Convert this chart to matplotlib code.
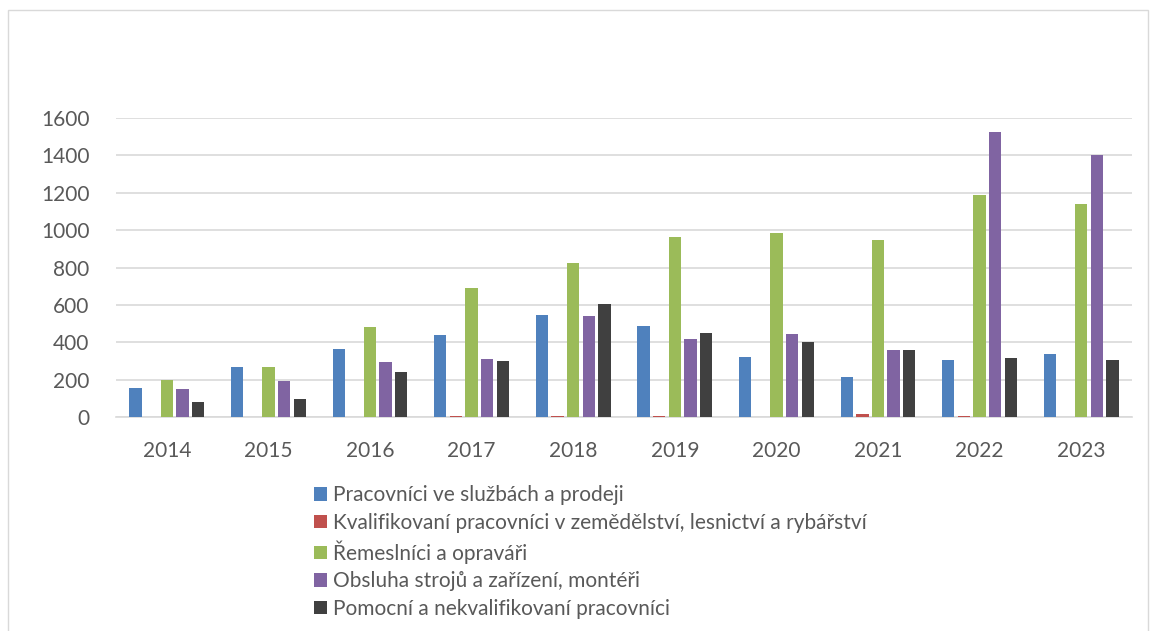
import numpy as np
import matplotlib.pyplot as plt
from matplotlib.patches import Rectangle

plt.rcParams['font.family'] = ['Lato', 'DejaVu Sans']

# ---- data ----
years = ["2014", "2015", "2016", "2017", "2018", "2019", "2020", "2021", "2022", "2023"]
series_names = [
    "Pracovníci ve službách a prodeji",
    "Kvalifikovaní pracovníci v zemědělství, lesnictví a rybářství",
    "Řemeslníci a opraváři",
    "Obsluha strojů a zařízení, montéři",
    "Pomocní a nekvalifikovaní pracovníci",
]
sluzby = [153, 269, 364, 440, 548, 487, 321, 214, 303, 339]
zemedelstvi = [0, 0, 0, 5, 5, 5, 0, 14, 5, 0]
remeslnici = [198, 269, 483, 688, 826, 965, 986, 947, 1188, 1138]
obsluha = [148, 194, 292, 312, 539, 417, 446, 358, 1525, 1404]
pomocni = [78, 96, 243, 300, 603, 449, 400, 358, 316, 303]
colors = ["#4F81BD", "#C0504D", "#9BBB59", "#8064A2", "#404040"]

values = [sluzby, zemedelstvi, remeslnici, obsluha, pomocni]

fig = plt.figure(figsize=(11.56, 6.31), dpi=100)
ax = fig.add_axes([116 / 1156, 1 - 417 / 631, (1132 - 116) / 1156, (417 - 118) / 631])

x = np.arange(len(years))
pitch = 0.154
width = 0.121
for i, (vals, name, c) in enumerate(zip(values, series_names, colors)):
    ax.bar(x + (i - 2) * pitch, vals, width, color=c, label=name, zorder=3)

ax.set_xlim(-0.5, len(years) - 0.5)
ax.set_ylim(0, 1600)
ax.set_yticks(range(0, 1601, 200))
ax.set_xticks(x)
ax.set_xticklabels(years)
ax.grid(axis="y", color="#d9d9d9", linewidth=1.2, zorder=0)
for s in ["top", "right", "left"]:
    ax.spines[s].set_visible(False)
ax.spines["bottom"].set_color("#d9d9d9")
ax.spines["bottom"].set_linewidth(1.2)
ax.tick_params(axis="both", length=0, labelsize=15, colors="#595959")
ax.tick_params(axis="x", pad=17)
ax.tick_params(axis="y", pad=19)

fig.legend(loc="upper left", bbox_to_anchor=(304 / 1156, 1 - 475 / 631), frameon=False,
           fontsize=15, labelcolor="#595959", handlelength=0.6, handleheight=0.6,
           handletextpad=0.3, labelspacing=0.36, borderpad=0)

# outer chart frame
fig.add_artist(Rectangle((8 / 1156, -0.05), (1148 - 8) / 1156, 1.05 - 10 / 631,
                         transform=fig.transFigure, fill=False, edgecolor="#d9d9d9", linewidth=1))

fig.savefig("out.png", dpi=100)
